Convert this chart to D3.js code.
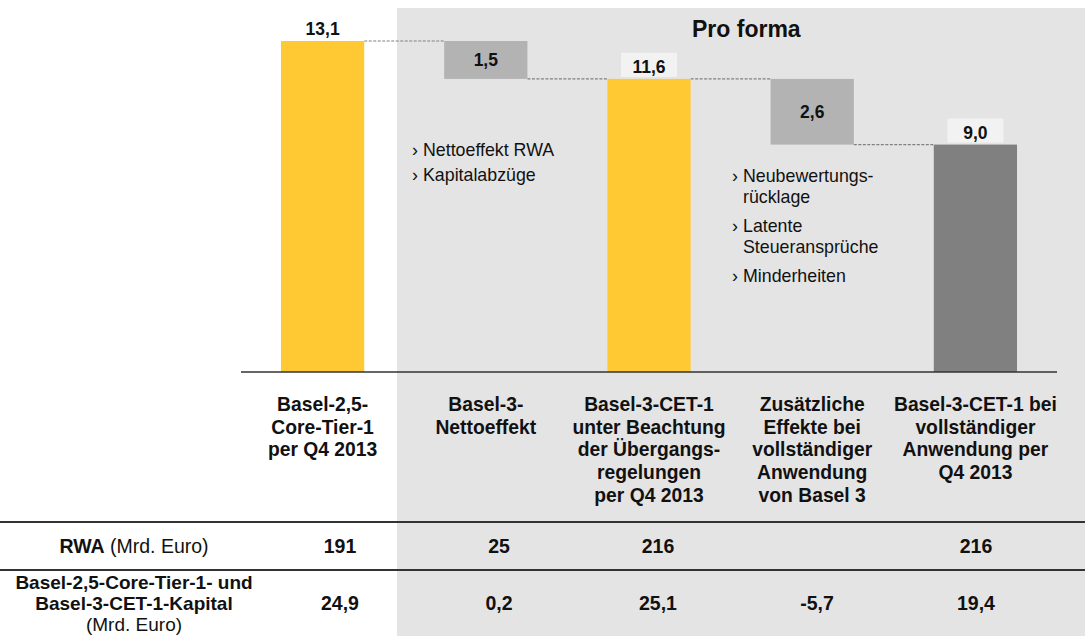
<!DOCTYPE html>
<html>
<head>
<meta charset="utf-8">
<script src="https://cdn.jsdelivr.net/npm/d3@7"></script>
<style>
  html, body { margin: 0; padding: 0; background: #fff; }
  svg { display: block; font-family: "Liberation Sans", Arial, sans-serif; }
  text { fill: #111; }
</style>
</head>
<body>
<svg id="chart" width="1085" height="636"></svg>
<script>
// Kapitalbrücke Basel 2.5 -> Basel 3 (Mrd. Euro)

// --- data ---
const categories = [
  ['Basel-2,5-', 'Core-Tier-1', 'per Q4 2013'],
  ['Basel-3-', 'Nettoeffekt'],
  ['Basel-3-CET-1', 'unter Beachtung', 'der Übergangs-', 'regelungen', 'per Q4 2013'],
  ['Zusätzliche', 'Effekte bei', 'vollständiger', 'Anwendung', 'von Basel 3'],
  ['Basel-3-CET-1 bei', 'vollständiger', 'Anwendung per', 'Q4 2013']
];
const steps = [13.1, -1.5, 11.6, -2.6, 9.0];
const stepTypes = ['total', 'delta', 'total', 'delta', 'final'];

const rwaValues = [191, 25, 216, null, 216];
const capitalValues = [24.9, 0.2, 25.1, -5.7, 19.4];

const bulletsLeft = [['Nettoeffekt RWA'], ['Kapitalabzüge']];
const bulletsRight = [['Neubewertungs-', 'rücklage'], ['Latente', 'Steueransprüche'], ['Minderheiten']];

const rwaLabel = ['RWA', ' (Mrd. Euro)'];
const capitalLabel = [['Basel-2,5-Core-Tier-1- und', true], ['Basel-3-CET-1-Kapital', true], ['(Mrd. Euro)', false]];

// --- setup ---
const W = 1085, H = 636;
const svg = d3.select('#chart');
const de = d3.formatLocale({ decimal: ',', thousands: '.', grouping: [3], currency: ['', ' €'], minus: '-' });
const f1 = de.format('.1f');
const f0 = de.format('d');

const colors = { total: '#ffc933', delta: '#b3b3b3', final: '#808080' };
const shadeX = 397;

const x = d3.scaleBand()
  .domain(d3.range(steps.length))
  .range([241, 1057])
  .paddingInner(0.49)
  .paddingOuter(0.245);
const cx = i => x(i) + x.bandwidth() / 2;

// table columns sit slightly off the bar centres
const tx = d3.scalePoint()
  .domain(d3.range(steps.length))
  .range([340, 976]);

const baseY = 372;
const y = d3.scaleLinear()
  .domain([0, d3.max(steps)])
  .range([baseY, 41]);

// running levels for the waterfall
let level = 0;
const bars = steps.map((v, i) => {
  let y0, y1;
  if (stepTypes[i] === 'delta') {
    y0 = level; y1 = level + v; level = y1;
  } else {
    y0 = 0; y1 = v; level = v;
  }
  return { i, v, type: stepTypes[i], lo: Math.min(y0, y1), hi: Math.max(y0, y1), end: level };
});

// pro forma background
svg.append('rect')
  .attr('x', shadeX).attr('y', 8)
  .attr('width', W - shadeX).attr('height', H - 8)
  .attr('fill', '#e4e4e4');

svg.append('text')
  .attr('x', 692).attr('y', 37)
  .attr('font-size', 23).attr('font-weight', 'bold')
  .text('Pro forma');

// connectors
svg.append('g').selectAll('line')
  .data(bars.slice(0, -1))
  .join('line')
  .attr('x1', d => x(d.i) + x.bandwidth())
  .attr('x2', d => x(d.i + 1))
  .attr('y1', d => y(d.end))
  .attr('y2', d => y(d.end))
  .attr('stroke', '#808080')
  .attr('stroke-width', 1.2)
  .attr('stroke-dasharray', '3,1.5');

// bars
svg.append('g').selectAll('rect')
  .data(bars)
  .join('rect')
  .attr('x', d => x(d.i))
  .attr('width', x.bandwidth())
  .attr('y', d => y(d.hi))
  .attr('height', d => y(d.lo) - y(d.hi))
  .attr('fill', d => colors[d.type]);

// value labels
bars.forEach(d => {
  const label = f1(Math.abs(d.v));
  if (d.type === 'delta') {
    svg.append('text')
      .attr('x', cx(d.i)).attr('y', (y(d.hi) + y(d.lo)) / 2 + 6)
      .attr('text-anchor', 'middle')
      .attr('font-size', 17.5).attr('font-weight', 'bold')
      .text(label);
  } else {
    const top = y(d.hi);
    if (x(d.i) > shadeX) {
      svg.append('rect')
        .attr('x', cx(d.i) - 28).attr('y', top - 26)
        .attr('width', 56).attr('height', 24)
        .attr('fill', '#f2f2f2');
    }
    svg.append('text')
      .attr('x', cx(d.i)).attr('y', top - 6)
      .attr('text-anchor', 'middle')
      .attr('font-size', 17.5).attr('font-weight', 'bold')
      .text(label);
  }
});

// baseline
svg.append('line')
  .attr('x1', 241).attr('x2', 1057)
  .attr('y1', baseY).attr('y2', baseY)
  .attr('stroke', '#333').attr('stroke-width', 1.5);

// bullet lists
function bulletList(items, bx, startY, lineGap, itemGap) {
  let yy = startY;
  items.forEach(lines => {
    svg.append('text')
      .attr('x', bx).attr('y', yy)
      .attr('font-size', 17.8)
      .text('›');
    lines.forEach((ln, k) => {
      svg.append('text')
        .attr('x', bx + 11).attr('y', yy + k * lineGap)
        .attr('font-size', 17.8)
        .text(ln);
    });
    yy += (lines.length - 1) * lineGap + itemGap;
  });
}
bulletList(bulletsLeft, 412, 156, 21, 25);
bulletList(bulletsRight, 732, 182, 21, 29);

// category labels
categories.forEach((lines, i) => {
  const t = svg.append('text')
    .attr('text-anchor', 'middle')
    .attr('font-size', 19.3).attr('font-weight', 'bold');
  lines.forEach((ln, k) => {
    t.append('tspan')
      .attr('x', cx(i))
      .attr('y', 411 + k * 22.7)
      .text(ln);
  });
});

// table
[522, 570].forEach(ly => {
  svg.append('line')
    .attr('x1', 0).attr('x2', W)
    .attr('y1', ly).attr('y2', ly)
    .attr('stroke', '#333').attr('stroke-width', 2);
});

const rowLabelX = 134;
const r1 = svg.append('text')
  .attr('x', rowLabelX).attr('y', 553)
  .attr('text-anchor', 'middle').attr('font-size', 19.5);
r1.append('tspan').attr('font-weight', 'bold').text(rwaLabel[0]);
r1.append('tspan').text(rwaLabel[1]);

capitalLabel.forEach(([ln, bold], k) => {
  svg.append('text')
    .attr('x', rowLabelX).attr('y', 589 + k * 21)
    .attr('text-anchor', 'middle').attr('font-size', 19)
    .attr('font-weight', bold ? 'bold' : 'normal')
    .text(ln);
});

svg.append('g').selectAll('text')
  .data(rwaValues.map((v, i) => ({ v, i })).filter(d => d.v !== null))
  .join('text')
  .attr('x', d => tx(d.i))
  .attr('y', 553)
  .attr('text-anchor', 'middle')
  .attr('font-size', 19.5).attr('font-weight', 'bold')
  .text(d => f0(d.v));

svg.append('g').selectAll('text')
  .data(capitalValues.map((v, i) => ({ v, i })))
  .join('text')
  .attr('x', d => tx(d.i))
  .attr('y', 610)
  .attr('text-anchor', 'middle')
  .attr('font-size', 19.5).attr('font-weight', 'bold')
  .text(d => f1(d.v));
</script>
</body>
</html>
